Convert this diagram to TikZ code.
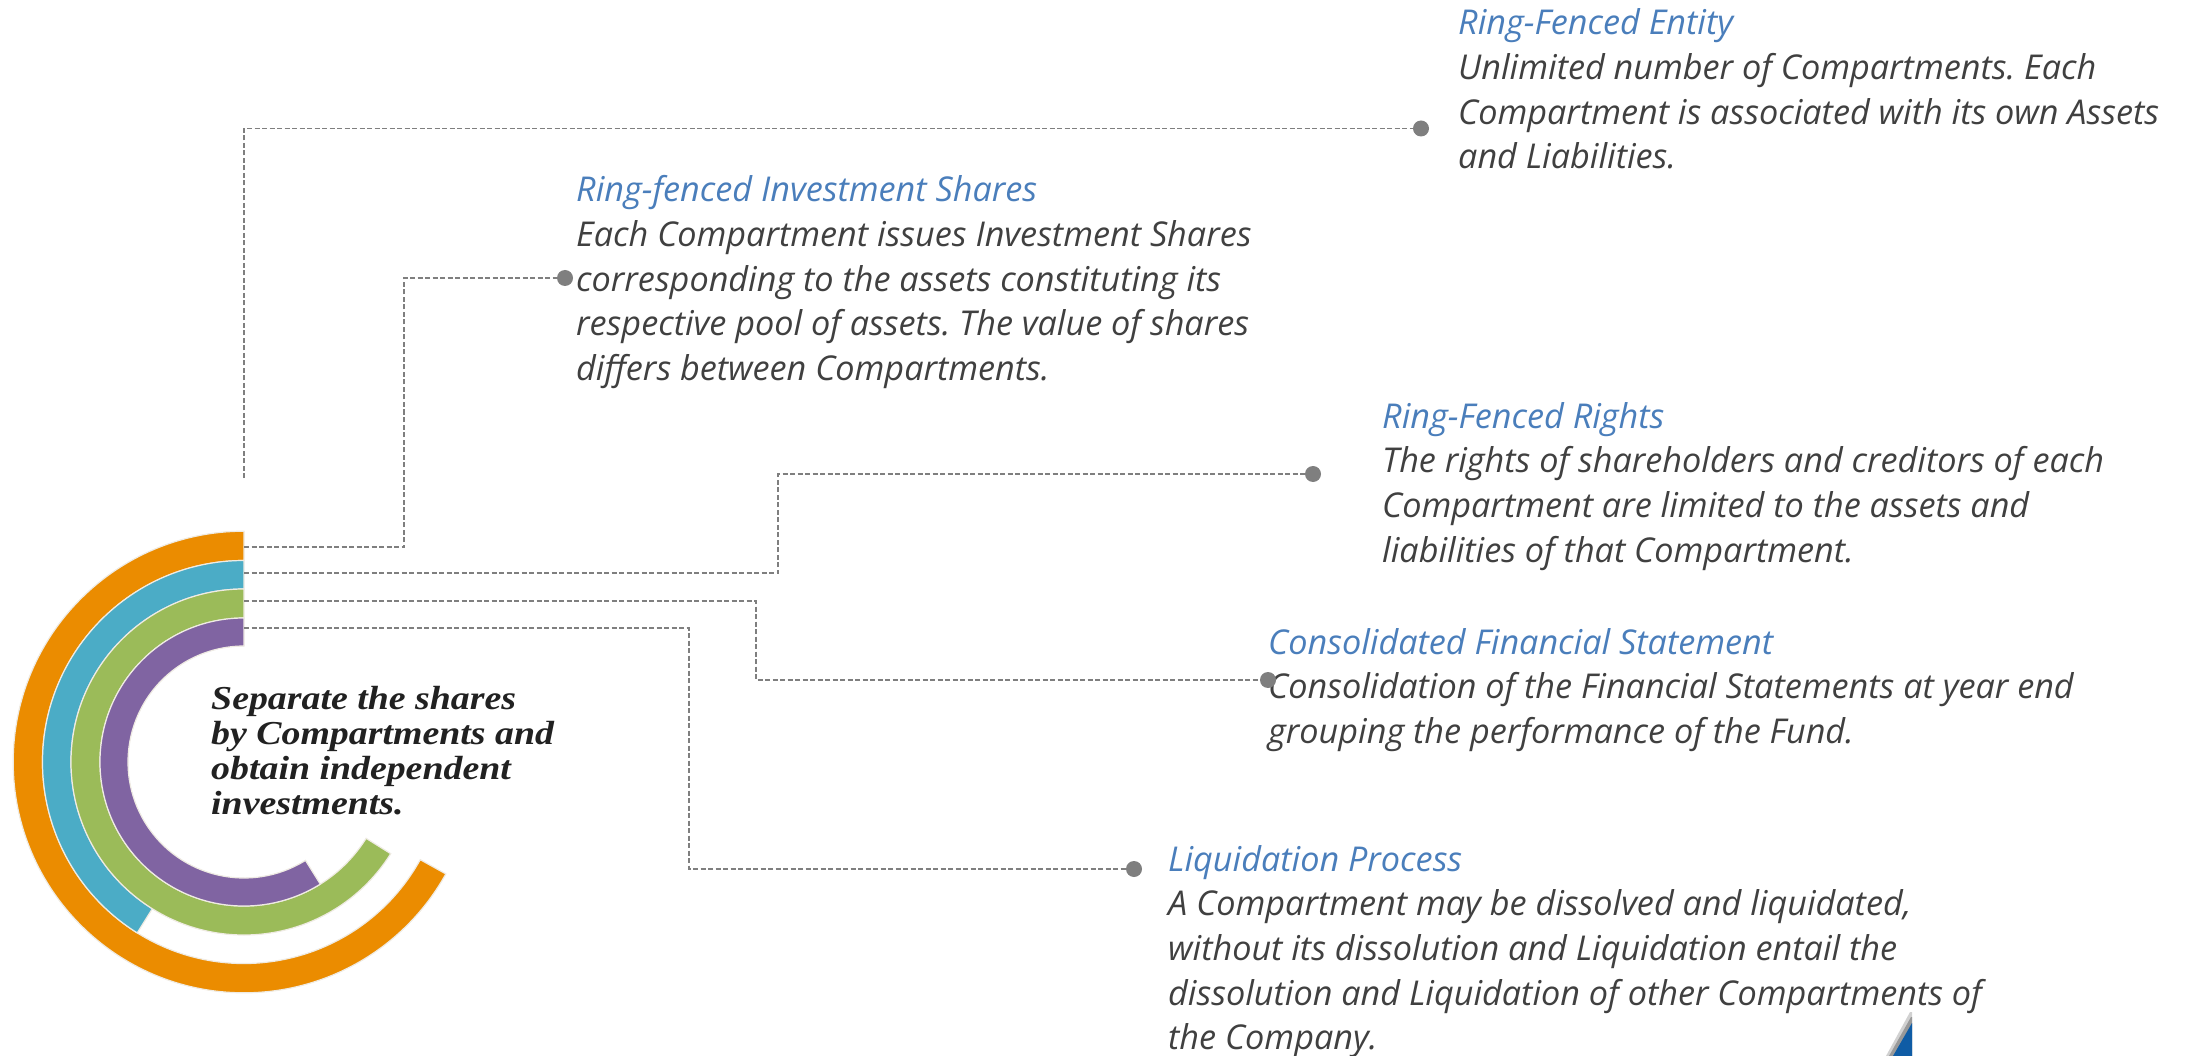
\documentclass[tikz,border=0pt]{standalone}
\usepackage{fontspec}
\setmainfont{Open Sans}
\newfontfamily\leadfont[FakeStretch=1.13]{Liberation Serif}
\frenchspacing
\definecolor{ttl}{HTML}{4A7EBB}
\definecolor{bodyc}{HTML}{404040}
\definecolor{ringO}{HTML}{EB8C00}
\definecolor{ringB}{HTML}{4BACC6}
\definecolor{ringG}{HTML}{9BBB59}
\definecolor{ringP}{HTML}{8064A2}
\definecolor{sep}{HTML}{EFEBE3}
\definecolor{lnk}{HTML}{7F7F7F}
\definecolor{logob}{HTML}{0F5CA5}
\tikzset{
  blocktext/.style={anchor=north west,inner sep=0pt,align=left,text=bodyc,font=\itshape\fontsize{34.2}{44.7}\selectfont},
  leadtext/.style={anchor=north west,inner sep=0pt,align=left,text=black!87,font=\leadfont\bfseries\itshape\fontsize{33.5}{35}\selectfont},
  conn/.style={draw=lnk,line width=1.4pt,dash pattern=on 5pt off 2.5pt},
  dotnode/.style={circle,fill=lnk,inner sep=0pt,minimum size=16pt},
  ringseg/.style={line width=1.2pt,draw=sep}
}
\newcommand{\ttlc}[1]{\textcolor{ttl}{#1}}
\newcommand{\ringpiece}[4]{% colour, end angle, outer, inner
  \path[ringseg,fill=#1] (90:#3pt) arc[start angle=90,end angle=#2,radius=#3pt]
    -- (#2:#4pt) arc[start angle=#2,end angle=90,radius=#4pt] -- cycle;}
\begin{document}
\begin{tikzpicture}[x=1pt,y=-1pt]
\useasboundingbox (0,0) rectangle (2193,1056);
% rings
\begin{scope}[shift={(244,762)}]
  \ringpiece{ringO}{331}{230.8}{201.5}
  \ringpiece{ringB}{238}{201.5}{173}
  \ringpiece{ringG}{328}{173}{144}
  \ringpiece{ringP}{302}{144}{116}
\end{scope}
% texts
\node[leadtext] (lead) at (211,686.5) {Separate the shares\\by Compartments and\\obtain independent\\investments.};
\node[blocktext] (t1) at (1458,8.5) {\ttlc{Ring-Fenced Entity}\\Unlimited number of Compartments. Each\\Compartment is associated with its own Assets\\and Liabilities.};
\node[blocktext] (t2) at (576,175.5) {\ttlc{Ring-fenced Investment Shares}\\Each Compartment issues Investment Shares\\corresponding to the assets constituting its\\respective pool of assets. The value of shares\\differs between Compartments.};
\node[blocktext] (t3) at (1382,402) {\ttlc{Ring-Fenced Rights}\\The rights of shareholders and creditors of each\\Compartment are limited to the assets and\\liabilities of that Compartment.};
\node[blocktext] (t4) at (1268,628) {\ttlc{Consolidated Financial Statement}\\Consolidation of the Financial Statements at year end\\grouping the performance of the Fund.};
\node[blocktext] (t5) at (1168,845) {\ttlc{Liquidation Process}\\A Compartment may be dissolved and liquidated,\\without its dissolution and Liquidation entail the\\dissolution and Liquidation of other Compartments of\\the Company.};
% dots
\node[dotnode] (d1) at (1421,128.5) {};
\node[dotnode] (d2) at (565,278) {};
\node[dotnode] (d3) at (1313,474) {};
\node[dotnode] (d4) at (1268,680) {};
\node[dotnode] (d5) at (1134,869) {};
% connector ends
\coordinate (c1) at (244,478);
\coordinate (c2) at (244,547);
\coordinate (c3) at (244,573);
\coordinate (c4) at (244,601);
\coordinate (c5) at (244,628);
\coordinate (m2) at (404,278);
\coordinate (m3) at (778,474);
\coordinate (m4) at (756,680);
\coordinate (m5) at (689,869);
\draw[conn] (c1) |- (d1);
\draw[conn] (c2) -| (m2) -- (d2);
\draw[conn] (c3) -| (m3) -- (d3);
\draw[conn] (c4) -| (m4) -- (d4);
\draw[conn] (c5) -| (m5) -- (d5);
% corner logo fragment
\fill[black!18] (1886,1056) -- (1910,1012) -- (1912,1012) -- (1912,1056) -- cycle;
\fill[black!40] (1889,1056) -- (1911,1017) -- (1912,1017) -- (1912,1056) -- cycle;
\fill[logob] (1893,1056) -- (1912,1023) -- (1912,1056) -- cycle;
\end{tikzpicture}
\end{document}
